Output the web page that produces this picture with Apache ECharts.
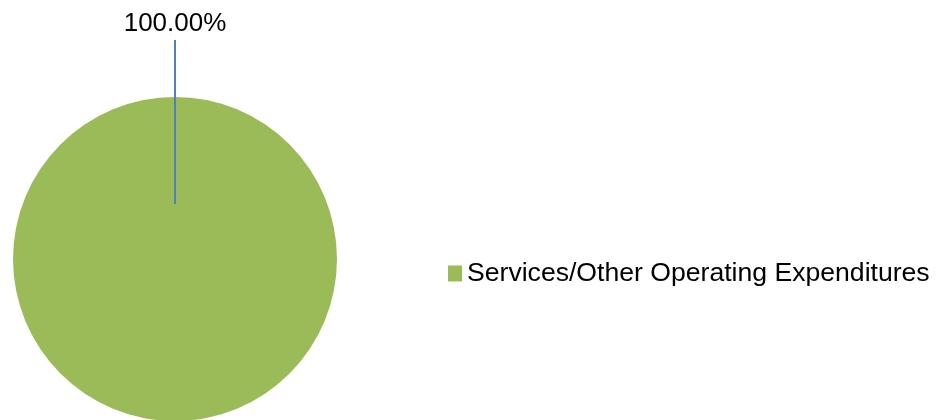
<!DOCTYPE html>
<html>
<head>
<meta charset="utf-8">
<script src="https://cdn.jsdelivr.net/npm/echarts@6/dist/echarts.min.js"></script>
<style>
html,body{margin:0;padding:0;background:#fff;}
#chart{width:943px;height:420px;}
</style>
</head>
<body>
<div id="chart"></div>
<script>
const categories = ['Services/Other Operating Expenditures'];
const values = [100];
const sliceColors = ['#9BBB59'];

const FONT = '"Liberation Sans", Arial, sans-serif';
const pieData = categories.map((c, i) => ({ name: c, value: values[i], itemStyle: { color: sliceColors[i] } }));
const labelData = categories.map((c, i) => ({ name: c, value: values[i] }));

const chart = echarts.init(document.getElementById('chart'), null, { renderer: 'canvas' });
chart.setOption({
  animation: false,
  backgroundColor: '#ffffff',
  legend: {
    orient: 'vertical',
    left: 448,
    top: 260,
    padding: 0,
    data: categories,
    icon: 'rect',
    itemWidth: 14,
    itemHeight: 16,
    textStyle: { fontSize: 26.6, color: '#000', fontFamily: FONT },
    selectedMode: false
  },
  series: [
    {
      type: 'pie',
      z: 2,
      center: [175, 259],
      radius: [0, 162],
      startAngle: 270,
      silent: true,
      itemStyle: { borderWidth: 0 },
      label: { show: false },
      labelLine: { show: false },
      emphasis: { disabled: true },
      data: pieData
    },
    {
      type: 'pie',
      z: 5,
      zlevel: 1,
      center: [175, 259],
      radius: [0, 55],
      startAngle: 270,
      silent: true,
      itemStyle: { color: 'rgba(0,0,0,0)', borderWidth: 0 },
      label: {
        show: true,
        position: 'outside',
        distanceToLabelLine: 0,
        fontSize: 26,
        color: '#000',
        fontFamily: FONT,
        formatter: p => p.percent.toFixed(2) + '%'
      },
      labelLine: {
        show: true,
        length: 164,
        length2: 0,
        smooth: false,
        lineStyle: { color: '#4F81BD', width: 2 }
      },
      labelLayout: { align: 'center', verticalAlign: 'bottom', dy: -3 },
      emphasis: { disabled: true },
      data: labelData
    }
  ]
});
</script>
</body>
</html>
